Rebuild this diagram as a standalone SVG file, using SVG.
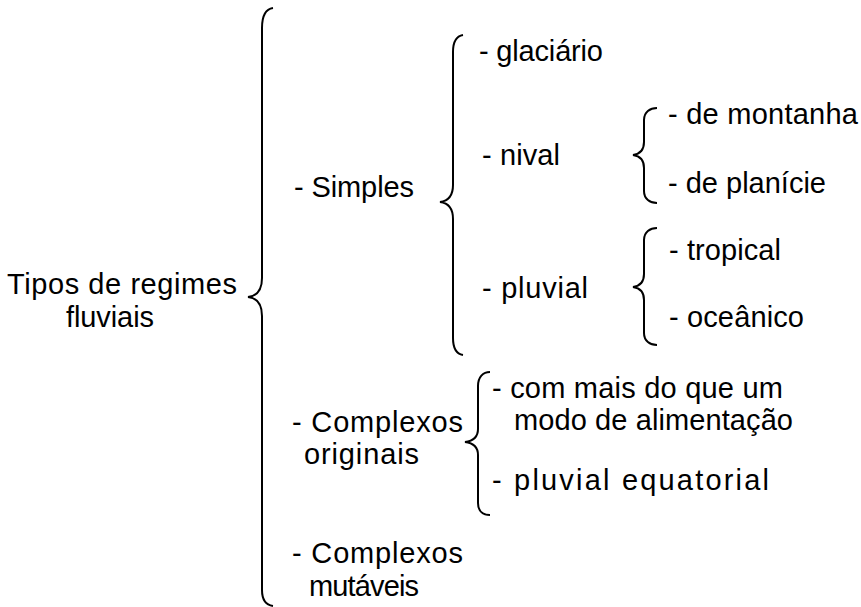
<svg xmlns="http://www.w3.org/2000/svg" width="861" height="607" viewBox="0 0 861 607">
<style>
text{font-family:"Liberation Sans",Arial,sans-serif;font-size:29px;fill:#000}
.b{fill:none;stroke:#000;stroke-width:2}
</style>
<rect width="861" height="607" fill="#fff"/>
<g id="connectors">
<path class="b" d="M273 8 C266 9 262 15 262 28 L262 278 C262 290 257 296 248 297 C257 298 262 304 262 316 L262 590 C262 600 266 605 273 606"/>
<path class="b" d="M463 35 C457 36 453 41 453 52 L453 185 C453 196 448 201 440 202 C448 203 453 208 453 219 L453 338 C453 349 457 354 463 355"/>
<path class="b" d="M657 108 C650 108 644 112 644 120 L644 142 C644 150 640 154 633 155 C640 156 644 160 644 168 L644 191 C644 199 650 203 657 203"/>
<path class="b" d="M657 228 C650 228 644 232 644 240 L644 274 C644 282 640 286 633 287 C640 288 644 292 644 300 L644 333 C644 341 650 345 657 345"/>
<path class="b" d="M490 372 C483 372 478 377 478 386 L478 429 C478 437 473 441 465 442 C473 443 478 447 478 455 L478 503 C478 511 483 515 490 515"/>
</g>
<g id="root"><text x="7" y="294" textLength="230" lengthAdjust="spacing">Tipos de regimes</text><text x="66" y="327" textLength="88" lengthAdjust="spacing">fluviais</text></g>
<g id="simples"><text x="294" y="197" textLength="120" lengthAdjust="spacing">- Simples</text></g>
<g id="glaciario"><text x="479" y="61" textLength="124" lengthAdjust="spacing">- glaciário</text></g>
<g id="nival"><text x="482" y="165" textLength="78" lengthAdjust="spacing">- nival</text></g>
<g id="montanha"><text x="668" y="124" textLength="190" lengthAdjust="spacing">- de montanha</text></g>
<g id="planicie"><text x="668" y="193" textLength="158" lengthAdjust="spacing">- de planície</text></g>
<g id="pluvial"><text x="482" y="298" textLength="106" lengthAdjust="spacing">- pluvial</text></g>
<g id="tropical"><text x="669" y="260" textLength="112" lengthAdjust="spacing">- tropical</text></g>
<g id="oceanico"><text x="669" y="327" textLength="135" lengthAdjust="spacing">- oceânico</text></g>
<g id="complexos-originais"><text x="292" y="432" textLength="171" lengthAdjust="spacing">- Complexos</text><text x="304" y="464" textLength="115" lengthAdjust="spacing">originais</text></g>
<g id="com-mais"><text x="492" y="398" textLength="291" lengthAdjust="spacing">- com mais do que um</text><text x="514" y="430" textLength="279" lengthAdjust="spacing">modo de alimentação</text></g>
<g id="pluvial-equatorial"><text x="492" y="490" textLength="277" lengthAdjust="spacing">- pluvial equatorial</text></g>
<g id="complexos-mutaveis"><text x="292" y="563" textLength="171" lengthAdjust="spacing">- Complexos</text><text x="309" y="596" textLength="110" lengthAdjust="spacing">mutáveis</text></g>
</svg>
